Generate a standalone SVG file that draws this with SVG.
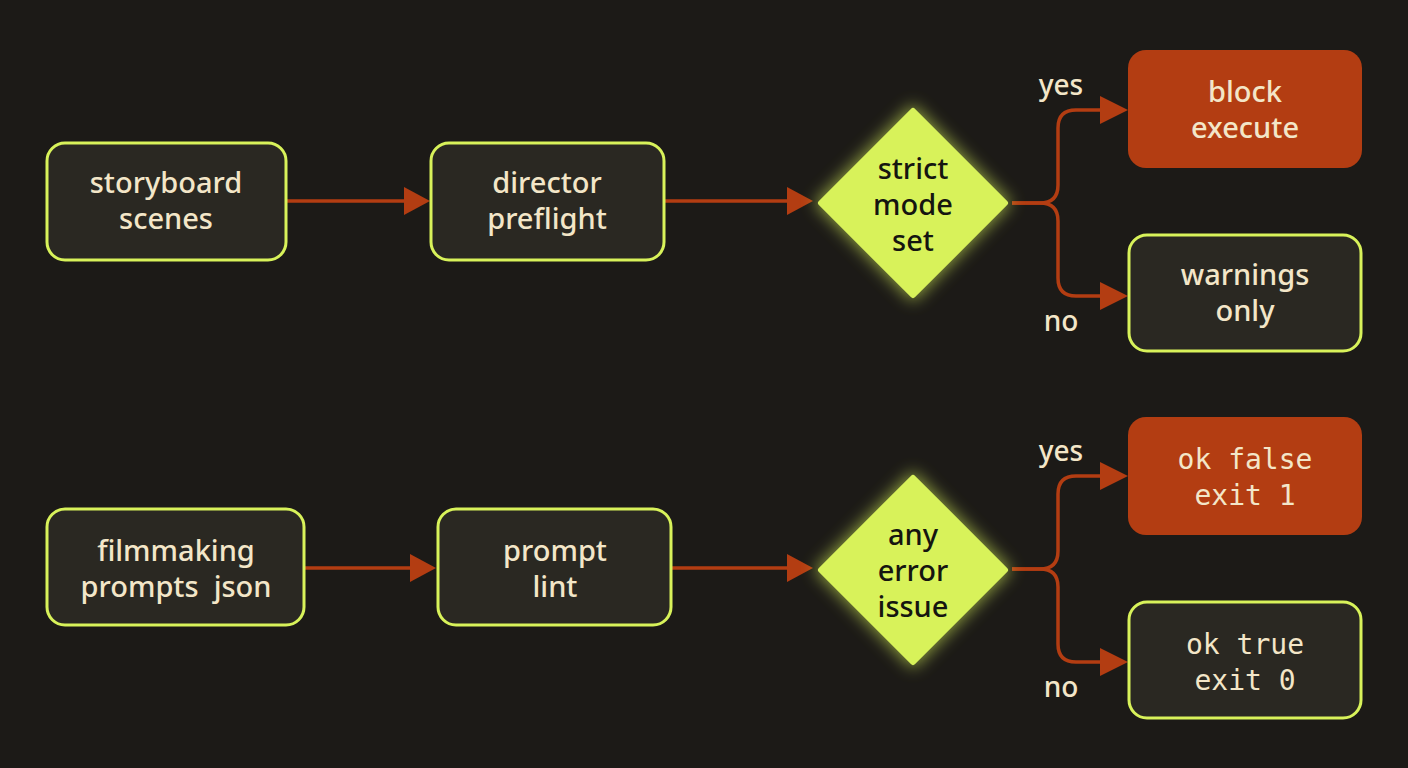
<svg xmlns="http://www.w3.org/2000/svg" width="1408" height="768" viewBox="0 0 1408 768">
<style>
.n rect{fill:#2a2822;stroke:#d8f25a;stroke-width:3}
.r rect{fill:#b33d12}
.d polygon{fill:#d8f25a;stroke:#d8f25a;stroke-width:6;stroke-linejoin:round}
text{font-family:"Noto Sans","Open Sans",sans-serif;font-size:29px;font-weight:500;text-anchor:middle;fill:#f3e6c8}
.d text{fill:#151510}
.m text{font-family:"DejaVu Sans Mono","Liberation Mono",monospace;font-size:28px;font-weight:normal}
.c path{fill:none;stroke:#b33d12;stroke-width:3.5}
.c .h{fill:#b33d12;stroke:none}
.lbl{font-size:28px}
</style>
<defs>
<filter id="g" x="-30%" y="-30%" width="160%" height="160%"><feGaussianBlur stdDeviation="8"/></filter>
</defs>
<rect width="1408" height="768" fill="#1c1a17"/>
<g class="c">
<path d="M287,201 H425"/>
<path d="M665,201 H808"/>
<path d="M1012,203 H1040 Q1058,203 1058,185 V128 Q1058,110 1076,110 H1124"/>
<path d="M1012,203 H1040 Q1058,203 1058,221 V278 Q1058,296 1076,296 H1124"/>
<path d="M305,568 H432"/>
<path d="M672,568 H808"/>
<path d="M1012,569 H1040 Q1058,569 1058,551 V494 Q1058,476 1076,476 H1124"/>
<path d="M1012,569 H1040 Q1058,569 1058,587 V644 Q1058,662 1076,662 H1124"/>
<path class="h" d="M404,187 L430,201 L404,215 z"/>
<path class="h" d="M787,187 L813,201 L787,215 z"/>
<path class="h" d="M1100,96 L1128,110 L1100,124 z"/>
<path class="h" d="M1100,282 L1128,296 L1100,310 z"/>
<path class="h" d="M410,554 L436,568 L410,582 z"/>
<path class="h" d="M787,554 L813,568 L787,582 z"/>
<path class="h" d="M1100,462 L1128,476 L1100,490 z"/>
<path class="h" d="M1100,648 L1128,662 L1100,676 z"/>
</g>
<text class="lbl" x="1061" y="95">yes</text>
<text class="lbl" x="1061" y="331">no</text>
<text class="lbl" x="1061" y="461">yes</text>
<text class="lbl" x="1061" y="697">no</text>
<g id="storyboard" class="n"><rect x="47" y="143" width="239" height="117" rx="18"/><text x="166" y="193">storyboard</text><text x="166" y="229">scenes</text></g>
<g id="director" class="n"><rect x="431" y="143" width="233" height="117" rx="18"/><text x="547" y="193">director</text><text x="547" y="229">preflight</text></g>
<g id="strict" class="d"><polygon points="913,108 1008,203 913,298 818,203" filter="url(#g)" opacity="0.6"/><polygon points="913,111 1005,203 913,295 821,203"/><text x="913" y="179">strict</text><text x="913" y="215">mode</text><text x="913" y="251">set</text></g>
<g id="block" class="r"><rect x="1128" y="50" width="234" height="118" rx="18"/><text x="1245" y="102">block</text><text x="1245" y="138">execute</text></g>
<g id="warnings" class="n"><rect x="1129" y="235" width="232" height="116" rx="18"/><text x="1245" y="285">warnings</text><text x="1245" y="321">only</text></g>
<g id="filmmaking" class="n"><rect x="47" y="509" width="257" height="116" rx="18"/><text x="176" y="561">filmmaking</text><text x="176" y="597" xml:space="preserve">prompts  json</text></g>
<g id="lint" class="n"><rect x="438" y="509" width="233" height="116" rx="18"/><text x="555" y="561">prompt</text><text x="555" y="597">lint</text></g>
<g id="anyerror" class="d"><polygon points="913,475 1008,570 913,665 818,570" filter="url(#g)" opacity="0.6"/><polygon points="913,478 1005,570 913,662 821,570"/><text x="913" y="545">any</text><text x="913" y="581">error</text><text x="913" y="617">issue</text></g>
<g id="okfalse" class="r m"><rect x="1128" y="417" width="234" height="118" rx="18"/><text x="1245" y="469">ok false</text><text x="1245" y="505">exit 1</text></g>
<g id="oktrue" class="n m"><rect x="1129" y="602" width="232" height="116" rx="18"/><text x="1245" y="654">ok true</text><text x="1245" y="690">exit 0</text></g>
</svg>
